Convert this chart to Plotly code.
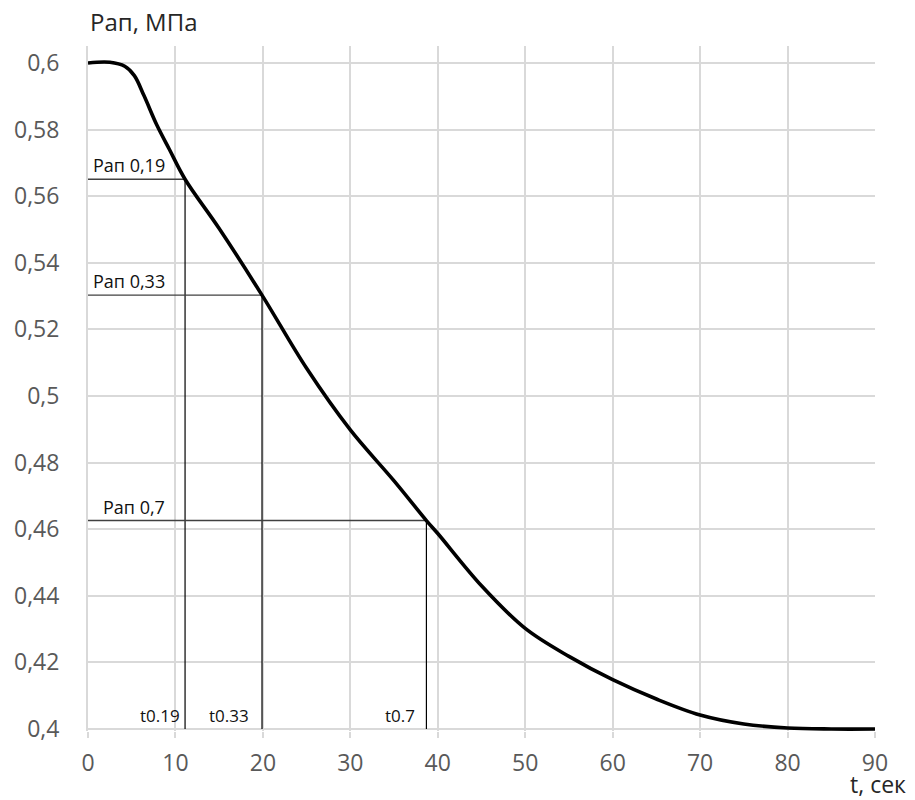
import plotly.graph_objects as go

# Curve data (time, s ; pressure, MPa)
t = [0, 2.5, 4.2, 5.3, 6.4, 7.9, 9.3, 11.1, 15, 19.9, 25, 30, 35, 38.7, 40, 45, 50, 55, 60, 65, 70, 75, 80, 85, 90]
p = [0.6, 0.6002, 0.599, 0.5962, 0.5902, 0.5812, 0.5741, 0.5651, 0.5503, 0.5303, 0.5083, 0.4898,
     0.4745, 0.4626, 0.4587, 0.443, 0.4302, 0.4218, 0.4148, 0.409, 0.4042, 0.4015, 0.4003, 0.4, 0.4]

# Marked points
t_marks = [11.1, 19.9, 38.7]
p_marks = [0.5651, 0.5303, 0.4626]
p_labels = ["Рап 0,19", "Рап 0,33", "Рап 0,7"]
t_labels = ["t0.19", "t0.33", "t0.7"]
t_label_pos = [8.2, 16.1, 35.7]

x_ticks = [0, 10, 20, 30, 40, 50, 60, 70, 80, 90]
y_ticks = [0.4, 0.42, 0.44, 0.46, 0.48, 0.5, 0.52, 0.54, 0.56, 0.58, 0.6]
y_ticktext = ["0,4", "0,42", "0,44", "0,46", "0,48", "0,5", "0,52", "0,54", "0,56", "0,58", "0,6"]

Y_MIN = 0.4
GRID = "#d9d9d9"
FONT = "Open Sans"

fig = go.Figure()

# marker guide lines
for tm, pm in zip(t_marks, p_marks):
    fig.add_trace(go.Scatter(x=[0, tm], y=[pm, pm], mode="lines",
                             line=dict(color="#404040", width=1.4), showlegend=False, hoverinfo="skip"))
    fig.add_trace(go.Scatter(x=[tm, tm], y=[Y_MIN, pm], mode="lines",
                             line=dict(color="#000000", width=1.2), showlegend=False, hoverinfo="skip"))

# main curve
fig.add_trace(go.Scatter(x=t, y=p, mode="lines",
                         line=dict(color="#000000", width=3.6, shape="spline", smoothing=1.0),
                         showlegend=False))

annotations = []
for tm, pm, lab in zip(t_marks, p_marks, p_labels):
    annotations.append(dict(x=9.0, y=pm, xref="x", yref="y", text=lab, showarrow=False,
                            xanchor="right", yanchor="bottom", yshift=0,
                            font=dict(family=FONT, size=18, color="#111111")))
for tp, lab in zip(t_label_pos, t_labels):
    annotations.append(dict(x=tp, y=Y_MIN, xref="x", yref="y", text=lab, showarrow=False,
                            xanchor="center", yanchor="middle", yshift=14,
                            font=dict(family=FONT, size=17, color="#111111")))
annotations.append(dict(x=0, y=1.0, xref="paper", yref="paper", text="Рап, МПа", showarrow=False,
                        xanchor="left", yanchor="middle", yshift=25,
                        font=dict(family=FONT, size=24, color="#262626")))
annotations.append(dict(x=1.042, y=-0.078, xref="paper", yref="paper", text="t, сек", showarrow=False,
                        xanchor="right", yanchor="middle",
                        font=dict(family=FONT, size=23, color="#262626")))

fig.update_layout(
    width=915, height=800,
    margin=dict(l=88, r=40, t=46, b=69),
    paper_bgcolor="white", plot_bgcolor="white",
    annotations=annotations,
    xaxis=dict(range=[0, 90], tickvals=x_ticks, showgrid=True, gridcolor=GRID, gridwidth=2,
               zeroline=False, showline=False, ticks="outside", ticklen=6, tickcolor=GRID, tickwidth=2,
               ticklabelstandoff=5,
               tickfont=dict(family=FONT, size=23, color="#595959")),
    yaxis=dict(range=[Y_MIN - 0.0006, 0.6051], tickvals=y_ticks, ticktext=y_ticktext,
               showgrid=True, gridcolor=GRID, gridwidth=2, zeroline=False,
               showline=True, linecolor=GRID, linewidth=2, ticks="", ticklabelstandoff=22,
               tickfont=dict(family=FONT, size=23, color="#595959")),
)

fig.write_html("out.html")
